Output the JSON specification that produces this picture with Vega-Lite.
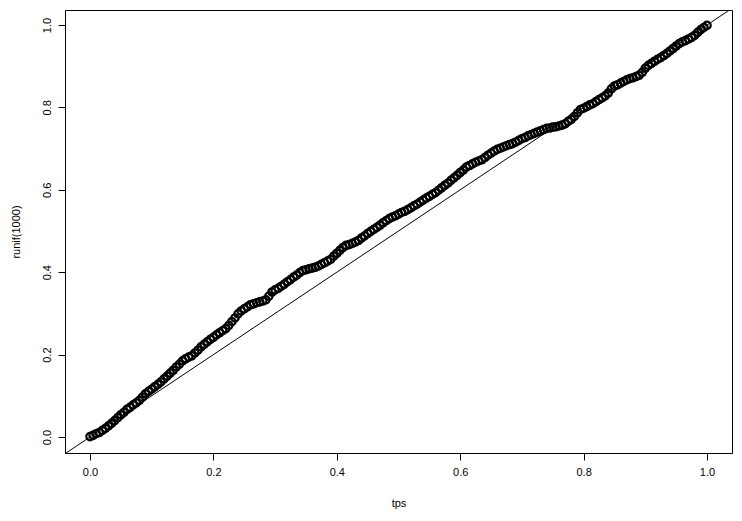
{
  "$schema": "https://vega.github.io/schema/vega-lite/v6.json",
  "width": 667,
  "height": 443,
  "autosize": "none",
  "padding": {"left": 65, "top": 10, "right": 10, "bottom": 68},
  "background": "white",
  "config": {
    "view": {"stroke": "black", "strokeWidth": 1},
    "axis": {"labelFont": "Liberation Sans", "titleFont": "Liberation Sans", "labelFontSize": 11, "titleFontSize": 11, "titleFontWeight": "normal", "labelColor": "black", "titleColor": "black", "tickColor": "black", "domain": false, "grid": false, "tickSize": 7}
  },
  "layer": [
    {
      "data": {"values": [
        {"tps":0.000,"runif":0.001},{"tps":0.005,"runif":0.004},{"tps":0.010,"runif":0.008},{"tps":0.015,"runif":0.011},
        {"tps":0.020,"runif":0.016},{"tps":0.025,"runif":0.021},{"tps":0.030,"runif":0.027},{"tps":0.035,"runif":0.033},
        {"tps":0.040,"runif":0.040},{"tps":0.045,"runif":0.047},{"tps":0.050,"runif":0.054},{"tps":0.055,"runif":0.060},
        {"tps":0.060,"runif":0.067},{"tps":0.065,"runif":0.072},{"tps":0.070,"runif":0.078},{"tps":0.075,"runif":0.083},
        {"tps":0.080,"runif":0.089},{"tps":0.085,"runif":0.097},{"tps":0.090,"runif":0.105},{"tps":0.095,"runif":0.111},
        {"tps":0.100,"runif":0.116},{"tps":0.105,"runif":0.122},{"tps":0.110,"runif":0.128},{"tps":0.115,"runif":0.134},
        {"tps":0.120,"runif":0.141},{"tps":0.125,"runif":0.148},{"tps":0.130,"runif":0.155},{"tps":0.135,"runif":0.162},
        {"tps":0.140,"runif":0.170},{"tps":0.145,"runif":0.177},{"tps":0.150,"runif":0.185},{"tps":0.155,"runif":0.190},
        {"tps":0.160,"runif":0.194},{"tps":0.165,"runif":0.197},{"tps":0.170,"runif":0.204},{"tps":0.175,"runif":0.211},
        {"tps":0.180,"runif":0.219},{"tps":0.185,"runif":0.225},{"tps":0.190,"runif":0.231},{"tps":0.195,"runif":0.237},
        {"tps":0.200,"runif":0.242},{"tps":0.205,"runif":0.248},{"tps":0.210,"runif":0.253},{"tps":0.215,"runif":0.258},
        {"tps":0.220,"runif":0.263},{"tps":0.225,"runif":0.271},{"tps":0.230,"runif":0.280},{"tps":0.235,"runif":0.289},
        {"tps":0.240,"runif":0.299},{"tps":0.245,"runif":0.306},{"tps":0.250,"runif":0.311},{"tps":0.255,"runif":0.316},
        {"tps":0.260,"runif":0.321},{"tps":0.265,"runif":0.323},{"tps":0.270,"runif":0.326},{"tps":0.275,"runif":0.328},
        {"tps":0.280,"runif":0.330},{"tps":0.285,"runif":0.333},{"tps":0.290,"runif":0.342},{"tps":0.295,"runif":0.352},
        {"tps":0.300,"runif":0.357},{"tps":0.305,"runif":0.361},{"tps":0.310,"runif":0.366},{"tps":0.315,"runif":0.371},
        {"tps":0.320,"runif":0.377},{"tps":0.325,"runif":0.382},{"tps":0.330,"runif":0.388},{"tps":0.335,"runif":0.393},
        {"tps":0.340,"runif":0.399},{"tps":0.345,"runif":0.404},{"tps":0.350,"runif":0.406},{"tps":0.355,"runif":0.408},
        {"tps":0.360,"runif":0.410},{"tps":0.365,"runif":0.412},{"tps":0.370,"runif":0.415},{"tps":0.375,"runif":0.419},
        {"tps":0.380,"runif":0.423},{"tps":0.385,"runif":0.427},{"tps":0.390,"runif":0.431},{"tps":0.395,"runif":0.439},
        {"tps":0.400,"runif":0.446},{"tps":0.405,"runif":0.453},{"tps":0.410,"runif":0.460},{"tps":0.415,"runif":0.465},
        {"tps":0.420,"runif":0.467},{"tps":0.425,"runif":0.470},{"tps":0.430,"runif":0.473},{"tps":0.435,"runif":0.477},
        {"tps":0.440,"runif":0.483},{"tps":0.445,"runif":0.488},{"tps":0.450,"runif":0.494},{"tps":0.455,"runif":0.499},
        {"tps":0.460,"runif":0.504},{"tps":0.465,"runif":0.509},{"tps":0.470,"runif":0.514},{"tps":0.475,"runif":0.520},
        {"tps":0.480,"runif":0.525},{"tps":0.485,"runif":0.530},{"tps":0.490,"runif":0.534},{"tps":0.495,"runif":0.537},
        {"tps":0.500,"runif":0.541},{"tps":0.505,"runif":0.545},{"tps":0.510,"runif":0.548},{"tps":0.515,"runif":0.552},
        {"tps":0.520,"runif":0.556},{"tps":0.525,"runif":0.561},{"tps":0.530,"runif":0.565},{"tps":0.535,"runif":0.570},
        {"tps":0.540,"runif":0.575},{"tps":0.545,"runif":0.580},{"tps":0.550,"runif":0.584},{"tps":0.555,"runif":0.589},
        {"tps":0.560,"runif":0.593},{"tps":0.565,"runif":0.599},{"tps":0.570,"runif":0.605},{"tps":0.575,"runif":0.611},
        {"tps":0.580,"runif":0.616},{"tps":0.585,"runif":0.623},{"tps":0.590,"runif":0.629},{"tps":0.595,"runif":0.635},
        {"tps":0.600,"runif":0.642},{"tps":0.605,"runif":0.648},{"tps":0.610,"runif":0.655},{"tps":0.615,"runif":0.659},
        {"tps":0.620,"runif":0.663},{"tps":0.625,"runif":0.667},{"tps":0.630,"runif":0.670},{"tps":0.635,"runif":0.673},
        {"tps":0.640,"runif":0.678},{"tps":0.645,"runif":0.684},{"tps":0.650,"runif":0.689},{"tps":0.655,"runif":0.694},
        {"tps":0.660,"runif":0.698},{"tps":0.665,"runif":0.701},{"tps":0.670,"runif":0.704},{"tps":0.675,"runif":0.707},
        {"tps":0.680,"runif":0.710},{"tps":0.685,"runif":0.712},{"tps":0.690,"runif":0.716},{"tps":0.695,"runif":0.720},
        {"tps":0.700,"runif":0.724},{"tps":0.705,"runif":0.727},{"tps":0.710,"runif":0.731},{"tps":0.715,"runif":0.734},
        {"tps":0.720,"runif":0.737},{"tps":0.725,"runif":0.740},{"tps":0.730,"runif":0.743},{"tps":0.735,"runif":0.746},
        {"tps":0.740,"runif":0.749},{"tps":0.745,"runif":0.750},{"tps":0.750,"runif":0.752},{"tps":0.755,"runif":0.753},
        {"tps":0.760,"runif":0.755},{"tps":0.765,"runif":0.757},{"tps":0.770,"runif":0.760},{"tps":0.775,"runif":0.766},
        {"tps":0.780,"runif":0.771},{"tps":0.785,"runif":0.778},{"tps":0.790,"runif":0.787},{"tps":0.795,"runif":0.795},
        {"tps":0.800,"runif":0.798},{"tps":0.805,"runif":0.802},{"tps":0.810,"runif":0.806},{"tps":0.815,"runif":0.809},
        {"tps":0.820,"runif":0.814},{"tps":0.825,"runif":0.819},{"tps":0.830,"runif":0.823},{"tps":0.835,"runif":0.828},
        {"tps":0.840,"runif":0.835},{"tps":0.845,"runif":0.845},{"tps":0.850,"runif":0.852},{"tps":0.855,"runif":0.855},
        {"tps":0.860,"runif":0.859},{"tps":0.865,"runif":0.863},{"tps":0.870,"runif":0.867},{"tps":0.875,"runif":0.870},
        {"tps":0.880,"runif":0.872},{"tps":0.885,"runif":0.875},{"tps":0.890,"runif":0.878},{"tps":0.895,"runif":0.885},
        {"tps":0.900,"runif":0.895},{"tps":0.905,"runif":0.902},{"tps":0.910,"runif":0.907},{"tps":0.915,"runif":0.912},
        {"tps":0.920,"runif":0.917},{"tps":0.925,"runif":0.921},{"tps":0.930,"runif":0.926},{"tps":0.935,"runif":0.931},
        {"tps":0.940,"runif":0.937},{"tps":0.945,"runif":0.943},{"tps":0.950,"runif":0.949},{"tps":0.955,"runif":0.955},
        {"tps":0.960,"runif":0.959},{"tps":0.965,"runif":0.962},{"tps":0.970,"runif":0.966},{"tps":0.975,"runif":0.970},
        {"tps":0.980,"runif":0.975},{"tps":0.985,"runif":0.982},{"tps":0.990,"runif":0.989},{"tps":0.995,"runif":0.994},
        {"tps":1.000,"runif":0.999}
      ]},
      "mark": {"type": "point", "shape": "circle", "filled": false, "stroke": "black", "strokeWidth": 2.2, "size": 55, "opacity": 1},
      "encoding": {
        "x": {"field": "tps", "type": "quantitative", "scale": {"domain": [-0.0405, 1.0405], "nice": false, "zero": false},
              "axis": {"values": [0, 0.2, 0.4, 0.6, 0.8, 1.0], "format": ".1f", "title": "tps", "labelPadding": 6, "titlePadding": 20}},
        "y": {"field": "runif", "type": "quantitative", "scale": {"domain": [-0.0388, 1.0364], "nice": false, "zero": false},
              "axis": {"values": [0, 0.2, 0.4, 0.6, 0.8, 1.0], "format": ".1f", "title": "runif(1000)", "labelAngle": -90, "labelAlign": "center", "labelBaseline": "bottom", "labelPadding": 6, "titlePadding": 20}}
      }
    },
    {
      "data": {"values": [{"a": -0.06}, {"a": 1.06}]},
      "mark": {"type": "line", "color": "black", "strokeWidth": 1, "clip": true},
      "encoding": {
        "x": {"field": "a", "type": "quantitative"},
        "y": {"field": "a", "type": "quantitative"}
      }
    }
  ]
}
